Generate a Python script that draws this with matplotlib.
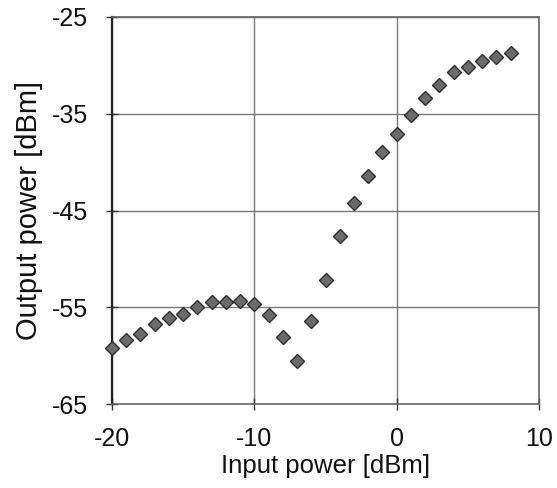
import matplotlib
matplotlib.use("Agg")
import matplotlib.pyplot as plt

plt.rcParams['font.family'] = ['Liberation Sans', 'DejaVu Sans']

input_power = [-20, -19, -18, -17, -16, -15, -14, -13, -12, -11, -10, -9, -8, -7,
               -6, -5, -4, -3, -2, -1, 0, 1, 2, 3, 4, 5, 6, 7, 8]
output_power = [-59.2, -58.35, -57.8, -56.7, -56.1, -55.7, -55.0, -54.5, -54.5, -54.4,
                -54.7, -55.8, -58.1, -60.6, -56.4, -52.2, -47.6, -44.2, -41.4, -39.0,
                -37.05, -35.1, -33.4, -32.0, -30.7, -30.2, -29.5, -29.1, -28.7]
x_ticks = [-20, -10, 0, 10]
y_ticks = [-65, -55, -45, -35, -25]

fig = plt.figure(figsize=(5.57, 4.88), dpi=100)
ax = fig.add_axes([112/557, 1-404/488, (539-112)/557, (404-17)/488])

ax.plot(input_power, output_power, linestyle='none', marker='D', markersize=6.8,
        markerfacecolor='#6b6b6b', markeredgecolor='#2e2e2e', markeredgewidth=1.0,
        zorder=3, clip_on=False)

ax.set_xlim(-20, 10)
ax.set_ylim(-65, -25)
ax.set_xticks(x_ticks)
ax.set_yticks(y_ticks)
ax.set_xticklabels([str(v) for v in x_ticks])
ax.set_yticklabels([str(v) for v in y_ticks])
ax.grid(True, color='#7a7a7a', linewidth=1.0)
ax.set_axisbelow(True)
for s in ax.spines.values():
    s.set_color('#666666')
    s.set_linewidth(1.2)
ax.spines['left'].set_color('#222222')
ax.spines['left'].set_linewidth(1.6)

ax.tick_params(axis='both', direction='inout', length=9, width=1.0, colors='#333333',
               labelcolor='#111111', labelsize=18)
ax.tick_params(axis='x', pad=12)
ax.tick_params(axis='y', pad=13)

ax.set_xlabel('Input power [dBm]', fontsize=18.5, color='#111111', labelpad=2)
ax.set_ylabel('Output power [dBm]', fontsize=21, color='#111111', labelpad=6)

fig.savefig('out.png', dpi=100)
